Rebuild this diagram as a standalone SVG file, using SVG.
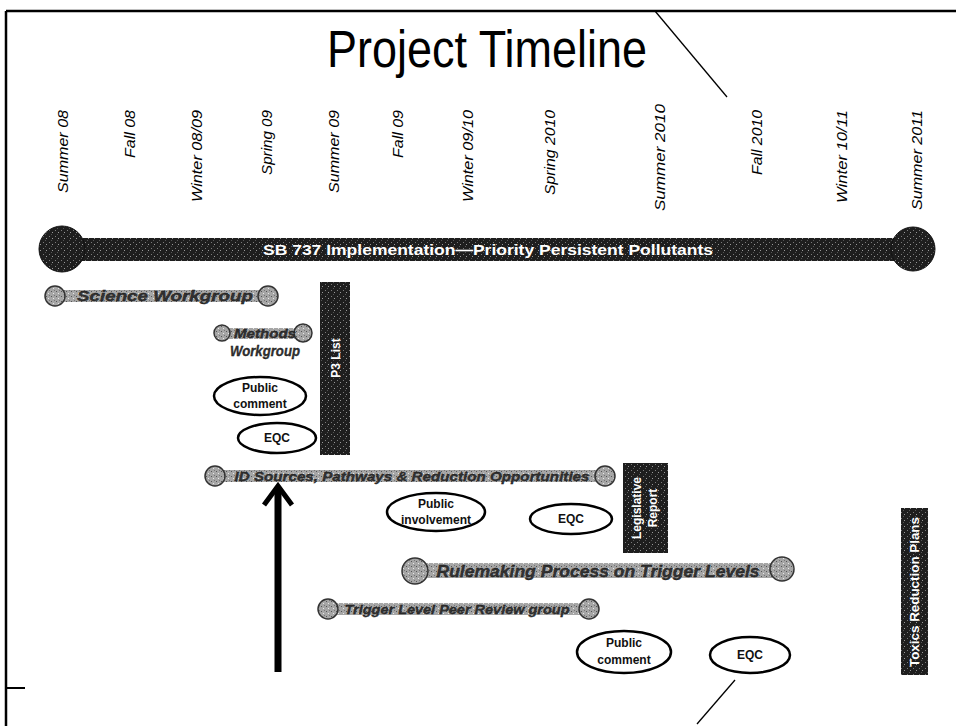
<svg xmlns="http://www.w3.org/2000/svg" width="956" height="726" viewBox="0 0 956 726">
<style>
.season{font-family:"Liberation Sans",Arial,sans-serif;font-style:italic;font-size:15px;fill:#000}
.bartxt{font-family:"Liberation Sans",Arial,sans-serif;font-style:italic;font-weight:bold;fill:#333;stroke:#111;stroke-width:0.3}
.ell{fill:#fff;stroke:#000;stroke-width:2.5}
.elltxt{font-family:"Liberation Sans",Arial,sans-serif;font-weight:bold;font-size:12px;fill:#111;text-anchor:middle}
.boxtxt{font-family:"Liberation Sans",Arial,sans-serif;font-weight:bold;font-size:12px;fill:#fff;text-anchor:middle}
.cap{fill:url(#grayTex);stroke:#333;stroke-width:1.5}
.frame{stroke:#000;fill:none}
</style>
<defs>
<pattern id="darkTex" width="6" height="6" patternUnits="userSpaceOnUse">
<rect width="6" height="6" fill="#1e1e1e"/>
<rect x="1" y="2" width="1" height="1" fill="#7a7a7a"/>
<rect x="4" y="4" width="1" height="1" fill="#9a9a9a"/>
<rect x="3" y="0" width="1" height="1" fill="#555"/>
</pattern>
<pattern id="grayTex" width="5" height="5" patternUnits="userSpaceOnUse">
<rect width="5" height="5" fill="#a6a6a6"/>
<rect x="1" y="1" width="1" height="1" fill="#555"/>
<rect x="3" y="3" width="1" height="1" fill="#e8e8e8"/>
<rect x="4" y="0" width="1" height="1" fill="#777"/>
</pattern>
</defs>
<rect width="956" height="726" fill="#fff"/>

<g id="frame">
<line class="frame" x1="6" y1="11" x2="956" y2="11" stroke-width="2.5"/>
<line class="frame" x1="6" y1="11" x2="6" y2="726" stroke-width="2.5"/>
<line class="frame" x1="6" y1="688" x2="25" y2="688" stroke-width="2"/>
<line class="frame" x1="655" y1="11" x2="727" y2="97" stroke-width="1.3"/>
<line class="frame" x1="735" y1="680" x2="697" y2="724" stroke-width="1.3"/>
</g>

<g id="title">
<text x="487" y="67" font-family="'Liberation Sans Narrow','Liberation Sans',Arial,sans-serif" font-size="51" text-anchor="middle" textLength="320" lengthAdjust="spacingAndGlyphs" fill="#000">Project Timeline</text>
</g>

<g id="seasons">
<text class="season" transform="translate(68,110) rotate(-90)" text-anchor="end" textLength="83" lengthAdjust="spacingAndGlyphs">Summer  08</text>
<text class="season" transform="translate(135,110) rotate(-90)" text-anchor="end" textLength="48" lengthAdjust="spacingAndGlyphs">Fall 08</text>
<text class="season" transform="translate(202,110) rotate(-90)" text-anchor="end" textLength="92" lengthAdjust="spacingAndGlyphs">Winter 08/09</text>
<text class="season" transform="translate(272,110) rotate(-90)" text-anchor="end" textLength="65" lengthAdjust="spacingAndGlyphs">Spring 09</text>
<text class="season" transform="translate(339,110) rotate(-90)" text-anchor="end" textLength="83" lengthAdjust="spacingAndGlyphs">Summer  09</text>
<text class="season" transform="translate(403,110) rotate(-90)" text-anchor="end" textLength="48" lengthAdjust="spacingAndGlyphs">Fall 09</text>
<text class="season" transform="translate(473,110) rotate(-90)" text-anchor="end" textLength="92" lengthAdjust="spacingAndGlyphs">Winter 09/10</text>
<text class="season" transform="translate(555,110) rotate(-90)" text-anchor="end" textLength="85" lengthAdjust="spacingAndGlyphs">Spring 2010</text>
<text class="season" transform="translate(665,104) rotate(-90)" text-anchor="end" textLength="107" lengthAdjust="spacingAndGlyphs">Summer  2010</text>
<text class="season" transform="translate(762,110) rotate(-90)" text-anchor="end" textLength="65" lengthAdjust="spacingAndGlyphs">Fall 2010</text>
<text class="season" transform="translate(847,110) rotate(-90)" text-anchor="end" textLength="93" lengthAdjust="spacingAndGlyphs">Winter 10/11</text>
<text class="season" transform="translate(922,110) rotate(-90)" text-anchor="end" textLength="100" lengthAdjust="spacingAndGlyphs">Summer 2011</text>
</g>

<g id="sb737">
<rect x="62" y="238" width="851" height="23" fill="url(#darkTex)"/>
<circle cx="62" cy="249" r="23" fill="url(#darkTex)" stroke="#111" stroke-width="1"/>
<circle cx="913" cy="249" r="22" fill="url(#darkTex)" stroke="#111" stroke-width="1"/>
<text x="488" y="255" font-family="'Liberation Sans',Arial,sans-serif" font-weight="bold" font-size="15" fill="#fff" text-anchor="middle" textLength="450" lengthAdjust="spacingAndGlyphs">SB 737 Implementation—Priority Persistent Pollutants</text>
</g>

<g id="science">
<rect x="55" y="290" width="213" height="12" fill="url(#grayTex)"/>
<circle class="cap" cx="55" cy="296" r="10"/>
<circle class="cap" cx="268" cy="296" r="10"/>
<text class="bartxt" x="165" y="301" font-size="14" text-anchor="middle" textLength="176" lengthAdjust="spacingAndGlyphs">Science Workgroup</text>
</g>

<g id="methods">
<rect x="222" y="328" width="81" height="11" fill="url(#grayTex)"/>
<circle class="cap" cx="222" cy="333" r="8"/>
<circle class="cap" cx="303" cy="333" r="9"/>
<text class="bartxt" x="265" y="338" font-size="13" text-anchor="middle" textLength="62" lengthAdjust="spacingAndGlyphs">Methods</text>
<text class="bartxt" x="265" y="356" font-size="14" text-anchor="middle" textLength="70" lengthAdjust="spacingAndGlyphs">Workgroup</text>
</g>

<g id="p3end">
<circle class="cap" cx="342" cy="333" r="7"/>
</g>

<g id="p3list">
<rect x="320" y="282" width="30" height="173" fill="url(#darkTex)"/>
<text class="boxtxt" transform="translate(340,358) rotate(-90)">P3 List</text>
</g>

<g id="pc1">
<ellipse class="ell" cx="260" cy="396" rx="46" ry="19"/>
<text class="elltxt" x="260" y="392">Public</text>
<text class="elltxt" x="260" y="408">comment</text>
</g>

<g id="eqc1">
<ellipse class="ell" cx="277" cy="438" rx="39" ry="15"/>
<text class="elltxt" x="277" y="442" font-size="11">EQC</text>
</g>

<g id="idsources">
<rect x="215" y="470" width="390" height="12" fill="url(#grayTex)"/>
<circle class="cap" cx="215" cy="476" r="10"/>
<circle class="cap" cx="605" cy="476" r="10"/>
<text class="bartxt" x="412" y="481" font-size="13" text-anchor="middle" textLength="355" lengthAdjust="spacingAndGlyphs">ID Sources, Pathways &amp; Reduction Opportunities</text>
</g>

<g id="legislative">
<rect x="623" y="463" width="45" height="90" fill="url(#darkTex)"/>
<text class="boxtxt" transform="translate(641,508) rotate(-90)">Legislative</text>
<text class="boxtxt" transform="translate(657,508) rotate(-90)">Report</text>
</g>

<g id="pi">
<ellipse class="ell" cx="436" cy="512" rx="49" ry="19"/>
<text class="elltxt" x="436" y="508">Public</text>
<text class="elltxt" x="436" y="524">involvement</text>
</g>

<g id="eqc2">
<ellipse class="ell" cx="571" cy="519" rx="41" ry="15"/>
<text class="elltxt" x="571" y="523" font-size="11">EQC</text>
</g>

<g id="rulemaking">
<rect x="415" y="563" width="367" height="15" fill="url(#grayTex)"/>
<circle class="cap" cx="415" cy="571" r="13"/>
<circle class="cap" cx="782" cy="569" r="12"/>
<text class="bartxt" x="598" y="577" font-size="17" text-anchor="middle" textLength="323" lengthAdjust="spacingAndGlyphs">Rulemaking Process on Trigger Levels</text>
</g>

<g id="trigger">
<rect x="328" y="603" width="261" height="12" fill="url(#grayTex)"/>
<circle class="cap" cx="328" cy="609" r="10"/>
<circle class="cap" cx="589" cy="609" r="10"/>
<text class="bartxt" x="457" y="614" font-size="13" text-anchor="middle" textLength="225" lengthAdjust="spacingAndGlyphs">Trigger Level Peer Review group</text>
</g>

<g id="pc2">
<ellipse class="ell" cx="624" cy="652" rx="47" ry="21"/>
<text class="elltxt" x="624" y="647">Public</text>
<text class="elltxt" x="624" y="664">comment</text>
</g>

<g id="eqc3">
<ellipse class="ell" cx="750" cy="655" rx="40" ry="18"/>
<text class="elltxt" x="750" y="659" font-size="11">EQC</text>
</g>

<g id="toxics">
<rect x="901" y="508" width="27" height="167" fill="url(#darkTex)"/>
<text class="boxtxt" transform="translate(919,592) rotate(-90)" font-size="12" textLength="150" lengthAdjust="spacingAndGlyphs">Toxics Reduction Plans</text>
</g>

<g id="connectors">
<line x1="278" y1="489" x2="278" y2="672" stroke="#000" stroke-width="7"/>
<polyline points="264,505 278,486 292,505" fill="none" stroke="#000" stroke-width="5" stroke-linejoin="miter"/>
</g>
</svg>
